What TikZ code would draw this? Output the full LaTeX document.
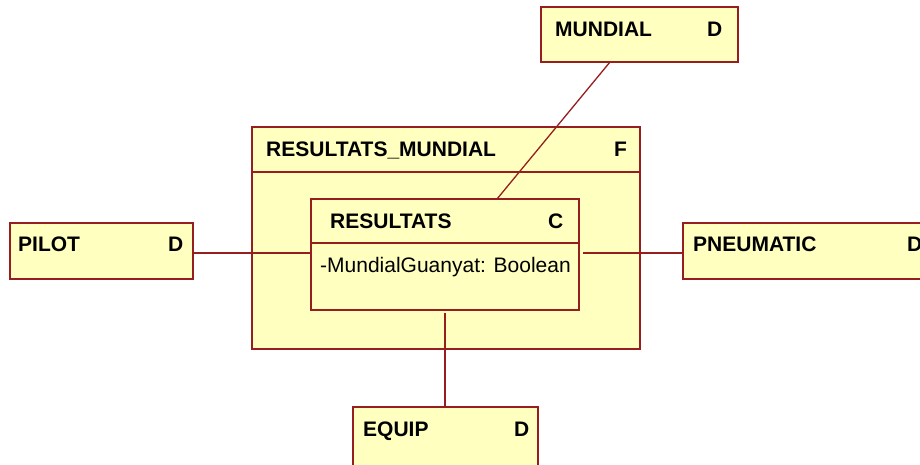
\documentclass[tikz,border=0pt]{standalone}
\usepackage{fontspec}
\setmainfont{Liberation Sans}
\usetikzlibrary{calc}
\definecolor{boxfill}{RGB}{255,255,192}
\definecolor{boxline}{RGB}{150,30,30}
\begin{document}
\begin{tikzpicture}[x=1pt,y=-1pt,
  entity/.style={draw=boxline, fill=boxfill, line width=1.3pt, rectangle,
    anchor=north west, inner sep=0pt, outer sep=0pt},
  title/.style={anchor=base west, inner sep=0pt,
    font=\fontsize{21}{24}\selectfont\bfseries},
  attr/.style={anchor=base west, inner sep=0pt,
    font=\fontsize{21}{24}\selectfont},
  link/.style={draw=boxline, line width=1.3pt}]
\useasboundingbox (0,0) rectangle (920,464);
\clip (0,0) rectangle (920,464);

% fact container
\node[entity, minimum width=388pt, minimum height=222pt] (outer) at (252,127) {};
\draw[link] ($(outer.north west)+(0,45)$) -- ($(outer.north east)+(0,45)$);

% dimensions
\node[entity, minimum width=197pt, minimum height=55pt] (mundial) at (541,7) {};
\node[entity, minimum width=183pt, minimum height=56pt] (pilot) at (10,223) {};
\node[entity, minimum width=260pt, minimum height=56pt] (pneumatic) at (683,223) {};
\node[entity, minimum width=185pt, minimum height=70pt] (equip) at (353,407) {};

% connectors
\coordinate (mtop) at ($(mundial.south west)+(69,0)$);
\coordinate (itop) at ($(outer.north west)+(245,72)$);
\coordinate (ibot) at (445,313);
\coordinate (pl) at (193,253);
\coordinate (pr) at (583,253);
\draw[link] (mtop) -- (itop);
\draw[link] (pl) -- (pl -| outer.west) -- (311,253);
\draw[link] (pr) -- (pr -| pneumatic.west);
\draw[link] (ibot) -- (ibot |- equip.north);

% class inside the fact
\node[entity, minimum width=268pt, minimum height=111pt] (inner) at (311,199) {};
\draw[link] ($(inner.north west)+(0,44)$) -- ($(inner.north east)+(0,44)$);

% labels
\node[title] (tmundial) at (555,36) {MUNDIAL};
\node[title] (dmundial) at (707,36) {D};
\node[title] (touter) at (266,156) {RESULTATS\_MUNDIAL};
\node[title] (fouter) at (614,156) {F};
\node[title] (tinner) at (330,228) {RESULTATS};
\node[title] (cinner) at (548,228) {C};
\node[attr] (ainner) at (320,272) {-MundialGuanyat: Boolean};
\node[title] (tpilot) at (18,251) {PILOT};
\node[title] (dpilot) at (168,251) {D};
\node[title] (tpneu) at (693,251) {PNEUMATIC};
\node[title] (dpneu) at (907,251) {D};
\node[title] (tequip) at (363,436) {EQUIP};
\node[title] (dequip) at (514,436) {D};
\end{tikzpicture}
\end{document}
